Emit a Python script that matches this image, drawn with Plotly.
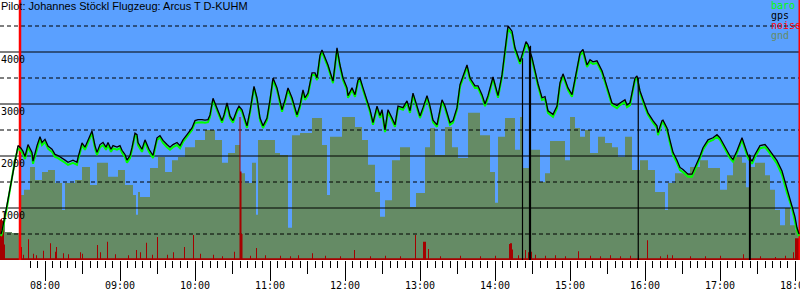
import plotly.graph_objects as go

# ---------------- data (time = minutes after midnight) ----------------
TITLE = "Pilot: Johannes Stöckl Flugzeug: Arcus T D-KUHM"

HOUR_TICKS = [480, 540, 600, 660, 720, 780, 840, 900, 960, 1020, 1080]
HOUR_LABELS = ["08:00", "09:00", "10:00", "11:00", "12:00", "13:00",
               "14:00", "15:00", "16:00", "17:00", "18:00"]
HALF_TICKS = [450, 510, 570, 630, 690, 750, 810, 870, 930, 990, 1050]
ALT_TICKS = [1000, 2000, 3000, 4000]
ALT_LABELS = ["1000", "2000", "3000", "4000"]
GRID_SOLID = [1000, 2000, 3000, 4000]
GRID_DASH = [500, 1500, 2500, 3500, 4500]
X_RANGE = [444, 1084]
Y_RANGE = [0, 5000]

TAKEOFF = 460.0
LANDING = 1083.4

LEGEND_NAMES = ["baro", "gps", "noise", "gnd"]

FIX_TIME = [444.8, 445.6, 449.6, 453.6, 456.0, 458.4, 460.8, 462.4, 464.0, 466.4,
            469.6, 470.4, 473.6, 476.0, 477.6, 480.0, 482.4, 485.6, 488.0, 490.4,
            496.0, 498.4, 502.4, 505.6, 506.4, 509.6, 512.0, 514.4, 517.6, 520.0,
            521.6, 524.0, 526.4, 528.8, 530.4, 532.8, 534.4, 537.6, 540.0, 541.6,
            544.0, 545.6, 548.0, 549.6, 552.0, 553.6, 554.4, 557.6, 560.0, 561.6,
            563.2, 566.4, 569.6, 572.0, 574.4, 577.6, 580.0, 582.4, 585.6, 588.0,
            590.4, 593.6, 597.6, 600.0, 602.4, 605.6, 608.0, 610.4, 612.0, 614.4,
            616.0, 618.4, 621.6, 623.2, 625.6, 628.0, 630.4, 633.6, 635.2, 637.6,
            640.0, 641.6, 644.0, 646.4, 647.2, 649.6, 652.0, 654.4, 657.6, 660.0,
            662.4, 665.6, 668.0, 669.6, 672.0, 674.4, 677.6, 681.6, 684.0, 686.4,
            688.0, 690.4, 693.6, 696.0, 697.6, 700.0, 701.6, 704.0, 706.4, 709.6,
            710.4, 712.0, 713.6, 716.0, 718.4, 721.6, 722.4, 725.6, 728.0, 730.4,
            732.0, 734.4, 737.6, 740.0, 742.4, 745.6, 748.0, 749.6, 752.0, 754.4,
            757.6, 760.0, 762.4, 766.4, 769.6, 772.0, 774.4, 777.6, 780.0, 782.4,
            785.6, 788.0, 790.4, 793.6, 797.6, 800.0, 804.0, 806.4, 809.6, 812.0,
            817.6, 820.0, 824.0, 826.4, 829.6, 832.0, 834.4, 838.4, 842.4, 845.6,
            848.0, 850.4, 853.6, 856.0, 860.0, 862.4, 864.8, 866.4, 869.6, 872.8,
            874.4, 877.6, 880.0, 882.4, 886.4, 889.6, 892.0, 894.4, 898.4, 901.6,
            904.0, 908.0, 910.4, 913.6, 916.0, 918.4, 921.6, 925.6, 928.0, 930.4,
            933.6, 937.6, 940.0, 944.0, 945.6, 948.0, 952.0, 953.6, 956.0, 960.0,
            962.4, 966.4, 969.6, 970.4, 973.6, 974.4, 977.6, 980.0, 982.4, 985.6,
            988.0, 990.4, 994.4, 997.6, 1000.0, 1004.0, 1006.4, 1010.4, 1014.4, 1017.6,
            1020.0, 1024.0, 1028.0, 1030.4, 1033.6, 1037.6, 1040.0, 1042.4, 1045.6, 1048.0,
            1052.0, 1056.0, 1058.4, 1061.6, 1065.6, 1069.6, 1073.6, 1077.6, 1080.0, 1081.6,
            1083.2]

BARO = [460, 520, 1020, 1540, 1920, 2150, 2100, 2040, 1940, 2170,
        2020, 1850, 2150, 2330, 2210, 2270, 2140, 2080, 1980, 1960,
        1870, 1830, 1870, 1830, 1920, 2210, 2120, 2270, 2440, 2150,
        2020, 2170, 2210, 2120, 2210, 2080, 2150, 2120, 2150, 2060,
        1980, 1870, 1960, 2120, 2400, 2370, 2210, 2080, 2270, 2170,
        2080, 1960, 2310, 2350, 2250, 2170, 2120, 2170, 2210, 2150,
        2270, 2370, 2500, 2640, 2650, 2650, 2640, 2650, 2750, 3080,
        2980, 2830, 2640, 2750, 2980, 2730, 2640, 2850, 2920, 2850,
        2640, 2540, 2830, 3210, 3310, 3080, 2690, 2540, 2690, 3040,
        3460, 3270, 2980, 2850, 3040, 3270, 3080, 2750, 2940, 3230,
        3080, 3170, 3560, 3560, 3460, 3900, 4000, 3850, 3710, 3460,
        3400, 3710, 4040, 3710, 3460, 3270, 3120, 3270, 3140, 3420,
        3460, 3270, 3040, 2850, 2600, 2920, 2730, 2850, 2460, 2850,
        2690, 2560, 2920, 2890, 3020, 2830, 3170, 2920, 2730, 2890,
        3120, 2920, 2650, 2560, 3040, 2920, 2600, 2640, 2890, 3330,
        3710, 3460, 3310, 3310, 3140, 2960, 3120, 3480, 3120, 3520,
        4040, 4440, 4350, 4040, 3770, 3980, 4150, 4100, 3850, 3520,
        3350, 3080, 3100, 2830, 2750, 2920, 3370, 3540, 3270, 3140,
        3440, 3940, 4000, 3710, 3810, 3770, 3790, 3600, 3420, 3230,
        2980, 2920, 2980, 3040, 2940, 2980, 3460, 3500, 3210, 2940,
        2790, 2640, 2540, 2400, 2640, 2650, 2500, 2250, 2020, 1870,
        1730, 1690, 1600, 1600, 1730, 1960, 2120, 2270, 2310, 2370,
        2310, 2120, 1960, 1890, 2060, 2310, 2120, 1960, 1850, 1980,
        2150, 2170, 2100, 1980, 1850, 1640, 1290, 1000, 750, 560,
        460]

GPS = [500, 560, 1060, 1580, 1960, 2200, 2150, 2090, 1990, 2220,
       2070, 1900, 2200, 2370, 2260, 2320, 2190, 2130, 2030, 2010,
       1920, 1880, 1920, 1880, 1970, 2250, 2170, 2310, 2480, 2200,
       2070, 2220, 2260, 2170, 2260, 2130, 2200, 2170, 2200, 2110,
       2030, 1920, 2010, 2160, 2440, 2410, 2260, 2130, 2310, 2220,
       2130, 2010, 2350, 2390, 2300, 2220, 2170, 2220, 2260, 2200,
       2310, 2410, 2540, 2680, 2700, 2700, 2690, 2700, 2790, 3110,
       3020, 2870, 2680, 2790, 3020, 2770, 2680, 2890, 2960, 2890,
       2680, 2580, 2870, 3250, 3340, 3120, 2730, 2580, 2730, 3080,
       3500, 3310, 3020, 2890, 3080, 3310, 3120, 2790, 2980, 3270,
       3120, 3210, 3600, 3600, 3500, 3940, 4040, 3890, 3750, 3500,
       3440, 3750, 4080, 3750, 3500, 3310, 3160, 3310, 3180, 3460,
       3500, 3310, 3080, 2890, 2640, 2960, 2780, 2890, 2500, 2890,
       2730, 2600, 2960, 2930, 3060, 2870, 3210, 2960, 2770, 2930,
       3160, 2960, 2690, 2600, 3080, 2960, 2640, 2680, 2930, 3370,
       3750, 3500, 3350, 3350, 3180, 3000, 3160, 3520, 3160, 3560,
       4080, 4500, 4400, 4080, 3810, 4020, 4200, 4140, 3890, 3560,
       3390, 3120, 3140, 2870, 2800, 2960, 3410, 3580, 3310, 3180,
       3480, 3980, 4050, 3750, 3850, 3810, 3830, 3640, 3460, 3270,
       3020, 2970, 3020, 3080, 2980, 3020, 3500, 3540, 3250, 2980,
       2830, 2680, 2580, 2450, 2680, 2690, 2540, 2300, 2070, 1920,
       1780, 1740, 1650, 1650, 1770, 2000, 2160, 2310, 2350, 2410,
       2350, 2160, 2000, 1930, 2100, 2350, 2170, 2010, 1900, 2030,
       2200, 2220, 2150, 2040, 1910, 1710, 1370, 1080, 830, 620,
       500]

# GPS fixes that reported 0 m (time, altitude of the fix just before)
DROP_TIME = [862.0, 867.6, 868.4, 954.6, 1043.6, 1044.2]
DROP_FROM = [3880, 4100, 4120, 3500, 2030, 2020]

GND_TIME = [444.0, 448.0, 453.6, 460.0, 463.2, 468.0, 472.0, 477.6, 482.4, 488.0,
            493.6, 496.0, 504.0, 509.6, 516.0, 521.6, 530.4, 538.4, 544.0, 550.4,
            552.8, 554.4, 556.0, 564.0, 570.4, 576.0, 581.6, 586.4, 592.0, 600.0,
            608.0, 616.0, 621.6, 626.4, 632.0, 636.0, 640.0, 645.6, 648.8, 650.4,
            664.0, 668.0, 674.4, 677.6, 684.0, 693.6, 701.6, 705.6, 708.0, 717.6,
            728.0, 733.6, 738.4, 744.0, 748.0, 752.0, 757.6, 764.0, 772.0, 776.8,
            784.0, 788.0, 792.0, 800.0, 805.6, 810.4, 818.4, 828.0, 836.0, 840.0,
            842.4, 848.0, 856.0, 860.0, 862.4, 868.0, 876.0, 880.0, 884.0, 896.0,
            900.0, 904.0, 908.0, 912.0, 916.0, 922.4, 928.0, 933.6, 938.4, 944.0,
            949.6, 956.0, 962.4, 968.0, 976.0, 978.4, 984.0, 996.0, 1004.0, 1010.4,
            1020.0, 1025.6, 1030.4, 1037.6, 1040.8, 1044.0, 1048.0, 1056.0, 1060.0, 1064.0,
            1068.0, 1072.0, 1076.0, 1080.0, 1084.0]
GND_ALT = [730, 540, 520, 1250, 1350, 1790, 1540, 1690, 1730, 1480,
           960, 1480, 1540, 1790, 1440, 1870, 1600, 1730, 1440, 1250,
           870, 1310, 1210, 1770, 1980, 1690, 1920, 1980, 2170, 2310,
           2500, 2310, 1870, 2060, 2210, 1670, 1480, 1870, 870, 2310,
           2060, 2020, 620, 2400, 2440, 2730, 2210, 1250, 2370, 2750,
           2560, 2310, 1830, 1310, 830, 1150, 1920, 2170, 1020, 1290,
           2170, 2540, 2020, 2560, 2170, 1960, 2830, 2400, 1690, 1100,
           2370, 2730, 2120, 2750, 1770, 2120, 1500, 1670, 2290, 1920,
           2750, 2540, 2370, 2500, 2060, 2370, 2250, 2170, 1980, 2370,
           1730, 1920, 1730, 1310, 960, 1480, 1670, 1790, 1920, 1770,
           1350, 1630, 1980, 1870, 1400, 1790, 1870, 1630, 1350, 960,
           670, 1000, 670, 580, 580]

NOISE_FLOOR = 35
NOISE_TIME = [444.0, 444.8, 445.6, 446.4, 447.2, 460.0, 460.8, 462.4, 466.4, 470.4,
              472.8, 478.4, 484.0, 488.0, 488.8, 494.4, 498.4, 508.0, 509.6, 521.6,
              524.0, 529.6, 536.0, 546.4, 552.8, 556.0, 560.8, 565.6, 569.6, 577.6,
              582.4, 591.2, 598.4, 604.0, 614.4, 621.6, 631.2, 635.6, 636.4, 637.2,
              644.0, 648.8, 656.0, 668.0, 676.0, 682.4, 693.6, 704.0, 716.0, 727.2,
              740.0, 752.0, 764.0, 776.0, 782.4, 783.2, 784.0, 786.4, 796.0, 812.0,
              828.0, 840.0, 851.2, 852.0, 852.8, 853.6, 858.4, 861.6, 864.0, 866.4,
              868.8, 872.0, 880.0, 888.0, 896.0, 906.4, 916.0, 924.0, 932.0, 940.0,
              948.0, 954.4, 961.6, 972.0, 977.6, 981.6, 996.0, 1008.0, 1020.0, 1038.4,
              1052.0, 1064.0, 1072.0, 1078.4, 1080.0, 1080.8, 1081.6, 1082.4, 1083.2]
NOISE_LEVEL = [780, 800, 760, 700, 300, 520, 250, 100, 400, 120,
               90, 180, 320, 160, 250, 130, 110, 150, 120, 290,
               150, 350, 110, 90, 190, 150, 330, 100, 440, 100,
               150, 250, 480, 120, 100, 70, 160, 2750, 1700, 500,
               80, 230, 90, 80, 70, 90, 130, 80, 70, 190,
               70, 80, 70, 480, 350, 350, 350, 210, 70, 80,
               70, 80, 310, 320, 320, 200, 90, 100, 190, 150,
               160, 100, 80, 90, 70, 170, 80, 70, 90, 70,
               80, 100, 380, 70, 100, 90, 70, 70, 80, 110,
               70, 60, 80, 150, 420, 420, 420, 420, 420]
SAMPLE_MIN = 0.8   # one noise sample

# ---------------- styles ----------------
SKY = "rgb(90,160,255)"
GND_COLOR = "rgb(101,139,101)"
NOISE_COLOR = "rgb(165,0,0)"
BARO_COLOR = "#00ff00"
GPS_COLOR = "#000000"
EVENT_COLOR = "#ff0000"
LEGEND_COLORS = [BARO_COLOR, GPS_COLOR, "#ff0000", GND_COLOR]
MONO = "DejaVu Sans Mono"

fig = go.Figure()

# ground
fig.add_trace(go.Scatter(x=GND_TIME, y=GND_ALT, mode="lines",
                         line=dict(width=0, shape="hv"), fill="tozeroy",
                         fillcolor=GND_COLOR, hoverinfo="skip"))

# grid lines (drawn over the ground)
gx, gy = [], []
for v in GRID_SOLID:
    gx += [X_RANGE[0], X_RANGE[1], None]
    gy += [v, v, None]
fig.add_trace(go.Scatter(x=gx, y=gy, mode="lines",
                         line=dict(color="black", width=1), hoverinfo="skip"))
dx, dy = [], []
for v in GRID_DASH:
    dx += [X_RANGE[0], X_RANGE[1], None]
    dy += [v, v, None]
fig.add_trace(go.Scatter(x=dx, y=dy, mode="lines",
                         line=dict(color="black", width=1, dash="4px,3px"),
                         hoverinfo="skip"))

# noise (step area)
nx, ny = [X_RANGE[0]], [NOISE_FLOOR]
for t, v in zip(NOISE_TIME, NOISE_LEVEL):
    nx += [t, t + SAMPLE_MIN]
    ny += [v, NOISE_FLOOR]
nx.append(X_RANGE[1])
ny.append(NOISE_FLOOR)
fig.add_trace(go.Scatter(x=nx, y=ny, mode="lines",
                         line=dict(width=0, shape="hv"), fill="tozeroy",
                         fillcolor=NOISE_COLOR, hoverinfo="skip"))

# takeoff / landing markers
fig.add_trace(go.Scatter(x=[TAKEOFF, TAKEOFF], y=Y_RANGE, mode="lines",
                         line=dict(color=EVENT_COLOR, width=2.5), hoverinfo="skip"))
fig.add_trace(go.Scatter(x=[LANDING, LANDING], y=Y_RANGE, mode="lines",
                         line=dict(color=EVENT_COLOR, width=1.5), hoverinfo="skip"))

# baro
fig.add_trace(go.Scatter(x=FIX_TIME, y=BARO, mode="lines",
                         line=dict(color=BARO_COLOR, width=2), hoverinfo="skip"))
# gps dropouts
ox, oy = [], []
for t, a in zip(DROP_TIME, DROP_FROM):
    ox += [t, t, None]
    oy += [a, 0, None]
fig.add_trace(go.Scatter(x=ox, y=oy, mode="lines",
                         line=dict(color=GPS_COLOR, width=1.2), hoverinfo="skip"))
# gps
fig.add_trace(go.Scatter(x=FIX_TIME, y=GPS, mode="lines",
                         line=dict(color=GPS_COLOR, width=1.3), hoverinfo="skip"))

# overlay axis carrying the half-hour ticks
fig.add_trace(go.Scatter(x=X_RANGE, y=[None, None], xaxis="x2", yaxis="y",
                         mode="lines", hoverinfo="skip"))

# sky during flight
fig.add_shape(type="rect", xref="x", yref="paper", x0=TAKEOFF, x1=LANDING,
              y0=0, y1=1, fillcolor=SKY, line=dict(width=0), layer="below")

# title and legend texts
fig.add_annotation(text=TITLE, xref="paper", yref="paper", x=0, y=1,
                   xanchor="left", yanchor="top", showarrow=False,
                   font=dict(family="Liberation Sans", size=11, color="black"),
                   borderpad=0, yshift=1)
for i, (name, col) in enumerate(zip(LEGEND_NAMES, LEGEND_COLORS)):
    fig.add_annotation(text=name, xref="paper", yref="paper",
                       x=770 / 800, y=1, xanchor="left", yanchor="top",
                       yshift=1 - 10 * i, showarrow=False, borderpad=0,
                       font=dict(family=MONO, size=10, color=col))

fig.update_layout(
    width=800, height=300,
    margin=dict(l=0, r=0, t=0, b=40, pad=0, autoexpand=False),
    paper_bgcolor="white", plot_bgcolor="white",
    showlegend=False,
    xaxis=dict(range=X_RANGE, tickmode="array", tickvals=HOUR_TICKS,
               ticktext=HOUR_LABELS, ticks="outside", ticklen=20,
               tickcolor="black", tickwidth=1, showgrid=False, zeroline=False,
               showline=False, ticklabeloverflow="allow", automargin=False,
               ticklabelstandoff=-4,
               tickfont=dict(family=MONO, size=10, color="black"),
               minor=dict(ticks="outside", ticklen=7, tickcolor="black",
                          tickwidth=1, dtick=6, tick0=480, showgrid=False)),
    xaxis2=dict(range=X_RANGE, overlaying="x", anchor="y", side="bottom",
                tickmode="array", tickvals=HALF_TICKS, ticks="outside",
                ticklen=13, tickcolor="black", tickwidth=1, automargin=False,
                showticklabels=False, showgrid=False, zeroline=False,
                showline=False),
    yaxis=dict(range=Y_RANGE, tickmode="array", tickvals=ALT_TICKS,
               ticktext=ALT_LABELS, ticks="", ticklabelposition="inside bottom",
               ticklabelstandoff=-2, automargin=False,
               showgrid=False, zeroline=False, showline=False,
               tickfont=dict(family=MONO, size=10, color="black")),
)

fig.write_html("out.html")
